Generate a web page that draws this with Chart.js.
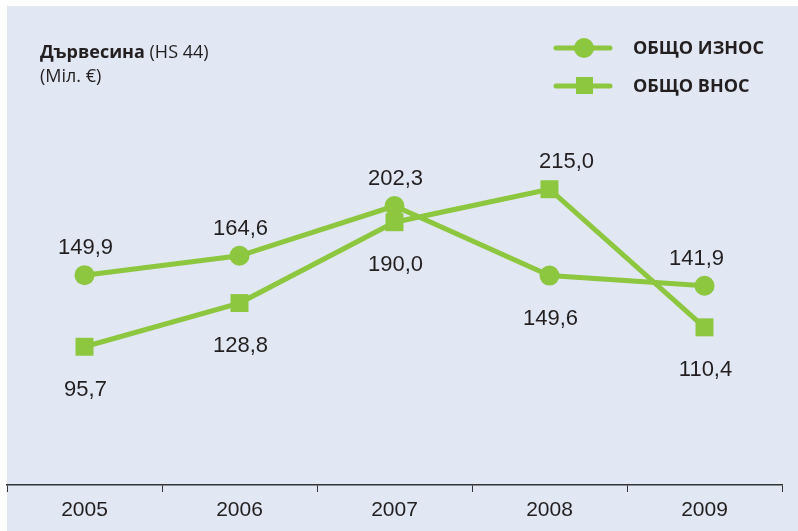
<!DOCTYPE html>
<html>
<head>
<meta charset="utf-8">
<script src="https://cdn.jsdelivr.net/npm/chart.js@4"></script>
<style>
    body { margin: 0; background: #fff; }
    #wrap { width: 798px; height: 531px; }
</style>
</head>
<body>
<div id="wrap"><canvas id="chart" width="798" height="531"></canvas></div>
<script>
// === Datos ===
const years = ["2005", "2006", "2007", "2008", "2009"];
const exportTotals = [149.9, 164.6, 202.3, 149.6, 141.9];
const importTotals = [95.7, 128.8, 190.0, 215.0, 110.4];
const seriesNames = ["ОБЩО ИЗНОС", "ОБЩО ВНОС"];

// placement of value labels (above / below the point)
const exportLabelPos = ["up", "up", "up", "down", "up"];
const importLabelPos = ["down", "down", "down", "up", "down"];

const green = "#8dc63f";
const ink = "#231f20";
const fmt = (v) => v.toFixed(1).replace(".", ",");

// background panel, title, legend and value labels
const decor = {
    id: "decor",
    beforeDraw(chart) {
        const ctx = chart.ctx;
        ctx.save();
        ctx.fillStyle = "#e1e8f4";
        ctx.fillRect(7, 6, chart.width - 7, chart.height - 6);
        ctx.restore();
    },
    afterDatasetsDraw(chart) {
        const ctx = chart.ctx;
        ctx.save();
        ctx.fillStyle = ink;
        ctx.textBaseline = "alphabetic";

        // title
        ctx.font = "bold 18px 'Open Sans'";
        ctx.fillText("Дървесина", 40, 58);
        const w = ctx.measureText("Дървесина ").width;
        ctx.font = "18px 'Open Sans'";
        ctx.fillText("(HS 44)", 40 + w, 58);
        ctx.fillText("(Міл. €)", 40, 82);

        // legend
        const rows = [48, 86];
        rows.forEach((y, i) => {
            ctx.strokeStyle = green;
            ctx.lineWidth = 5;
            ctx.lineCap = "round";
            ctx.beginPath();
            ctx.moveTo(556, y);
            ctx.lineTo(610, y);
            ctx.stroke();
            ctx.fillStyle = green;
            if (i === 0) {
                ctx.beginPath();
                ctx.arc(584, y, 10, 0, Math.PI * 2);
                ctx.fill();
            } else {
                ctx.fillRect(576, y - 9, 17, 17);
            }
            ctx.fillStyle = ink;
            ctx.font = "bold 18px 'Open Sans'";
            ctx.textBaseline = "middle";
            ctx.fillText(seriesNames[i], 633, y + 1);
        });

        // value labels
        ctx.font = "22px 'Liberation Sans'";
        ctx.textAlign = "center";
        ctx.textBaseline = "middle";
        const sets = [
            [exportTotals, exportLabelPos, 0],
            [importTotals, importLabelPos, 1],
        ];
        sets.forEach(([vals, pos, di]) => {
            const meta = chart.getDatasetMeta(di);
            vals.forEach((v, i) => {
                const pt = meta.data[i];
                let dx = 1;
                if (di === 0 && i === 4) dx = -8;
                if (di === 1 && i === 3) dx = 17;
                const dy = pos[i] === "up" ? -27 : 43;
                ctx.fillText(fmt(v), pt.x + dx, pt.y + dy);
            });
        });
        ctx.restore();
    },
};

const ctxChart = document.getElementById("chart").getContext("2d");
new Chart(ctxChart, {
    type: "line",
    data: {
        labels: years,
        datasets: [
            {
                label: seriesNames[0],
                data: exportTotals,
                borderColor: green,
                backgroundColor: green,
                borderWidth: 5,
                pointStyle: "circle",
                pointRadius: 10,
                pointBorderWidth: 0,
                tension: 0,
                clip: false,
            },
            {
                label: seriesNames[1],
                data: importTotals,
                borderColor: green,
                backgroundColor: green,
                borderWidth: 5,
                pointStyle: "rect",
                pointRadius: 12.7,
                pointBorderWidth: 0,
                tension: 0,
                clip: false,
            },
        ],
    },
    options: {
        responsive: false,
        animation: false,
        layout: {
            autoPadding: false,
            padding: { left: 7, right: 16, top: 77, bottom: 0 },
        },
        plugins: {
            legend: { display: false },
            tooltip: { enabled: false },
        },
        scales: {
            x: {
                offset: true,
                afterFit: (s) => {
                    s.height = 46;
                    s.paddingLeft = 0;
                    s.paddingRight = 0;
                },
                grid: {
                    offset: true,
                    drawOnChartArea: false,
                    drawTicks: true,
                    tickLength: 7,
                    color: "#333",
                    lineWidth: 1,
                },
                border: { display: true, color: "#333", width: 1.5 },
                ticks: {
                    color: ink,
                    font: { family: "'Liberation Sans'", size: 21 },
                    padding: 6,
                },
            },
            y: {
                display: false,
                min: -9,
                max: 300,
            },
        },
    },
    plugins: [decor],
});
</script>
</body>
</html>
